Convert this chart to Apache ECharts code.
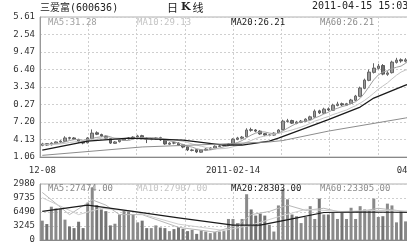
<!DOCTYPE html>
<html><head><meta charset="utf-8">
<script src="https://cdn.jsdelivr.net/npm/echarts@6/dist/echarts.min.js"></script>
<style>
html,body{margin:0;padding:0;background:#fff;overflow:hidden;width:407px;height:251px}
#wrap{position:absolute;left:13px;top:0;width:394px;height:251px;overflow:hidden}
#c{position:absolute;left:-13px;top:0;width:440px;height:251px}
</style>
</head><body><div id="wrap"><div id="c"></div></div>
<script>
const dates = ['2010-12-08','2010-12-09','2010-12-10','2010-12-13','2010-12-14','2010-12-15','2010-12-16','2010-12-17','2010-12-20','2010-12-21','2010-12-22','2010-12-23','2010-12-24','2010-12-27','2010-12-28','2010-12-29','2010-12-30','2010-12-31',
'2011-01-04','2011-01-05','2011-01-06','2011-01-07','2011-01-10','2011-01-11','2011-01-12','2011-01-13','2011-01-14','2011-01-17','2011-01-18','2011-01-19','2011-01-20','2011-01-21','2011-01-24','2011-01-25','2011-01-26','2011-01-27','2011-01-28','2011-01-31',
'2011-02-01','2011-02-09','2011-02-10','2011-02-11','2011-02-14','2011-02-15','2011-02-16','2011-02-17','2011-02-18','2011-02-21','2011-02-22','2011-02-23','2011-02-24','2011-02-25','2011-02-28',
'2011-03-01','2011-03-02','2011-03-03','2011-03-04','2011-03-07','2011-03-08','2011-03-09','2011-03-10','2011-03-11','2011-03-14','2011-03-15','2011-03-16','2011-03-17','2011-03-18','2011-03-21','2011-03-22','2011-03-23','2011-03-24','2011-03-25','2011-03-28','2011-03-29','2011-03-30','2011-03-31',
'2011-04-01','2011-04-06','2011-04-07','2011-04-08','2011-04-11','2011-04-12','2011-04-13','2011-04-14','2011-04-15'];

const opens = [13.10,13.40,13.20,13.45,13.70,13.80,14.45,14.40,14.15,13.75,
13.55,14.30,15.30,15.00,14.70,14.30,13.45,13.75,14.00,14.25,
14.40,14.60,14.80,14.40,14.15,14.20,14.45,14.00,13.30,13.55,
13.50,13.20,12.85,12.20,12.35,11.90,12.25,12.40,12.60,12.90,
13.05,13.10,13.40,14.15,14.35,14.60,15.85,15.80,15.60,15.15,
14.85,14.90,15.30,15.85,17.30,17.45,16.95,17.15,17.30,17.65,
18.05,19.15,18.75,19.50,19.25,20.10,20.40,20.15,20.45,21.00,
21.70,23.10,24.50,25.90,26.60,27.10,25.55,25.85,27.65,28.10,
27.85,28.05,28.30,27.80,28.45];
const closes = [13.35,13.15,13.50,13.70,13.85,14.40,14.35,14.20,13.70,13.50,
14.40,15.25,15.05,14.75,14.35,13.50,13.70,14.05,14.20,14.40,
14.55,14.75,14.40,14.20,14.25,14.40,14.05,13.35,13.50,13.50,
13.15,12.80,12.30,12.30,11.95,12.30,12.45,12.65,12.95,13.00,
13.15,13.35,14.20,14.40,14.55,15.80,15.75,15.60,15.10,14.90,
14.95,15.25,15.80,17.35,17.40,17.00,17.20,17.35,17.70,18.10,
19.10,18.80,19.45,19.30,20.15,20.35,20.20,20.40,21.05,21.75,
23.15,24.55,25.95,26.65,27.00,25.60,25.80,27.70,28.05,27.90,
28.10,28.25,27.85,28.40,28.20];
const highs = [13.55,13.50,13.65,13.80,14.00,14.70,14.60,14.55,14.25,13.85,
14.55,15.90,15.55,15.15,14.85,14.40,13.85,14.20,14.35,14.55,
14.70,14.95,14.95,14.55,14.40,14.55,14.60,14.10,13.65,13.70,
13.65,13.35,12.95,12.50,12.45,12.45,12.60,12.80,13.10,13.15,
13.25,13.50,14.35,14.60,14.75,16.10,16.20,15.95,15.75,15.25,
15.10,15.40,15.95,17.60,17.75,17.60,17.40,17.55,17.85,18.30,
19.40,19.35,19.70,19.75,20.40,20.75,20.60,20.55,21.25,21.95,
23.40,24.80,26.40,27.50,27.40,27.35,26.10,27.95,28.45,28.35,
28.40,28.55,28.50,28.60,28.70];
const lows = [12.95,13.00,13.10,13.35,13.55,13.70,14.15,14.05,13.55,13.30,
13.45,14.15,14.90,14.55,14.20,13.35,13.35,13.60,13.90,14.15,
14.30,14.50,14.25,13.50,14.00,14.10,13.90,13.20,13.15,13.30,
13.00,12.60,12.10,12.05,11.75,11.80,12.10,12.30,12.50,12.80,
12.90,13.00,13.30,14.00,14.20,14.50,15.50,15.40,14.95,14.70,
14.70,14.80,15.20,15.75,17.10,16.85,16.80,17.00,17.20,17.55,
17.95,18.60,18.60,19.10,19.15,19.95,20.00,20.00,20.30,20.85,
21.55,22.95,24.35,25.70,26.40,25.40,25.30,25.70,27.45,27.60,
27.65,27.90,27.65,27.70,28.00];
const volumes = [18300,15100,31500,29850,29550,19260,12800,11250,17300,11250,
35300,49800,33000,28900,27300,13800,15400,24100,27900,27000,
24100,16700,18300,11250,11250,13800,11850,11250,8400,10300,
12200,10600,8400,9600,5800,9000,8000,6450,7700,8000,
8400,19900,19900,16000,19900,43300,28900,23100,25000,23100,
14400,8000,32700,48100,38500,24100,22500,16000,21800,32000,
19900,39200,24100,24100,25700,19900,26300,19900,30500,19900,
32000,28900,28200,39200,21800,22500,34400,32700,16700,27300,
17600,25000,21000,23000,19000];

const ma5 = [13.3,13.3,13.3,13.4,13.5,13.7,13.95,14.1,14.1,14.0,
14.1,14.3,14.5,14.6,14.8,14.6,14.3,14.1,13.95,13.95,
14.2,14.4,14.45,14.45,14.45,14.4,14.3,14.05,13.9,13.75,
13.5,13.25,12.95,12.8,12.5,12.35,12.25,12.3,12.45,12.65,
12.85,13.0,13.35,13.6,13.95,14.45,14.9,15.25,15.45,15.45,
15.25,15.15,15.2,15.65,16.1,16.55,16.95,17.25,17.35,17.45,
17.9,18.2,18.6,18.9,19.35,19.6,19.9,20.1,20.45,20.75,
21.35,22.3,23.45,24.6,25.45,25.95,26.2,26.55,26.8,27.0,
27.5,28.0,28.05,28.1,28.15];
const ma10 = [13.2,13.2,13.25,13.3,13.35,13.45,13.6,13.7,13.8,13.8,
13.9,14.0,14.2,14.35,14.4,14.4,14.4,14.35,14.3,14.35,
14.35,14.35,14.3,14.2,14.2,14.3,14.35,14.25,14.15,14.1,
13.95,13.8,13.6,13.35,13.15,12.95,12.75,12.6,12.5,12.5,
12.55,12.65,12.85,13.05,13.3,13.65,13.95,14.3,14.55,14.75,
14.85,15.05,15.2,15.4,15.6,15.8,16.05,16.3,16.6,16.95,
17.35,17.6,17.9,18.15,18.5,18.75,19.05,19.3,19.7,20.05,
20.5,21.0,21.6,22.25,22.95,23.5,24.05,24.75,25.4,25.95,
26.3,26.5,26.75,27.0,27.2];
// [category index, value]
const ma20Points = [[0,12.28],[10,13.86],[19,14.38],[31,14.03],[40,13.16],[44,13.16],[50,13.86],[52,14.38],[63,17.6],[70,19.82],[73,21.4],[80,23.68],[84,24.6]];
const ma60Points = [[0,11.35],[22,12.82],[40,13.35],[50,13.7],[53,13.95],[63,15.6],[80,17.9],[84,18.5]];
const volMa5Points = [[0,45000],[6,24000],[11,38000],[14,33000],[17,24000],[22,24000],[30,12000],[38,7500],[43,14000],[46,24000],[50,27000],[54,33000],[58,28000],[62,30000],[66,26000],[70,27000],[74,30000],[78,28000],[84,24000]];
const volMa10Points = [[0,40000],[8,24000],[13,30000],[20,27000],[30,15000],[40,9000],[46,14000],[52,22000],[58,29000],[66,27000],[74,28000],[84,27000]];
const volMa20Points = [[0,27000],[10,33000],[20,27000],[30,21000],[42,14000],[48,14000],[55,20000],[62,26000],[70,26500],[84,26000]];

const priceTicks = [11.06,14.13,17.20,20.27,23.34,26.40,29.47,32.54,35.61];
const volTicks = [0,13245,26490,39735,52980];
const xLabelDates = ['2010-12-08','2011-02-14','2011-04-15'];
const xLabelText = ['12-08','2011-02-14','04-15'];
const priceMaLabels = ['MA5:31.28','MA10:29.13','MA20:26.21','MA60:26.21'];
const volMaLabels = ['MA5:27474.00','MA10:27907.00','MA20:28303.00','MA60:23305.00'];
const titleText = '三爱富(600636)';
const dateTime = '2011-04-15 15:03';

const MONO = '"DejaVu Sans Mono","Liberation Mono",monospace';
const maColors = ['#a0a0a0','#c4c4c4','#1a1a1a','#8c8c8c'];
const maLabelX = [48, 137, 231, 320];

const chart = echarts.init(document.getElementById('c'), null, {renderer:'canvas'});
const dash = {show:true, lineStyle:{color:'#cfcfcf', type:[2,2], width:1}};
const hiddenAxis = {axisLine:{show:false}, axisTick:{show:false}, axisLabel:{show:false}};

function ptsToData(pts){ return pts.map(p => [dates[p[0]], p[1]]); }

const graphics = [
  {type:'text', left:40, top:3, style:{text:titleText, font:'10px '+MONO+',"Noto Sans CJK SC"', fill:'#222'}},
  {type:'text', left:167, top:2, style:{text:'{a|日}{b|K}{a|线}', rich:{a:{font:'11px "Noto Sans CJK SC"', fill:'#222'}, b:{font:'bold 11px "DejaVu Serif"', fill:'#222', padding:[0,2,0,3]}}}},
  {type:'text', left:312, top:1, style:{text:dateTime, font:'10px '+MONO, fill:'#222'}}
];
priceMaLabels.forEach((t,i)=>graphics.push({type:'text', left:maLabelX[i], top:18, z:10, style:{text:t, font:'9px '+MONO, fill:maColors[i]}}));
volMaLabels.forEach((t,i)=>graphics.push({type:'text', left:maLabelX[i], top:184.5, z:10, style:{text:t, font:'9px '+MONO, fill:i===0?'#888':maColors[i]}}));

const option = {
  animation:false,
  backgroundColor:'#fff',
  graphic: graphics,
  grid:[
    {left:40, top:17, width:386, height:140, show:true, borderColor:'#b0b0b0', borderWidth:1},
    {left:40, top:184, width:386, height:56, show:true, borderColor:'#b0b0b0', borderWidth:1}
  ],
  xAxis:[
    {type:'category', gridIndex:0, data:dates, boundaryGap:true,
     axisLine:{lineStyle:{color:'#888'}}, axisTick:{show:false}, splitLine:{show:false},
     axisLabel:{interval:(i,v)=>xLabelDates.indexOf(v)>=0, formatter:v=>xLabelText[xLabelDates.indexOf(v)],
       fontFamily:MONO, fontSize:9, color:'#333', margin:9, alignMaxLabel:'right'}},
    {type:'category', gridIndex:1, data:dates, boundaryGap:true,
     axisLine:{lineStyle:{color:'#888'}}, axisTick:{show:false}, axisLabel:{show:false}, splitLine:{show:false}},
    Object.assign({type:'value', gridIndex:0, min:0, max:8, interval:1, position:'top', splitLine:dash}, hiddenAxis),
    Object.assign({type:'value', gridIndex:1, min:0, max:8, interval:1, position:'top', splitLine:dash}, hiddenAxis)
  ],
  yAxis:[
    {type:'value', gridIndex:0, min:priceTicks[0], max:priceTicks[priceTicks.length-1], position:'left',
     axisLine:{show:true, lineStyle:{color:'#999'}}, axisTick:{show:false}, splitLine:{show:false},
     axisLabel:{customValues:priceTicks, formatter:v=>v.toFixed(2), fontFamily:MONO, fontSize:9, color:'#333', margin:5}},
    {type:'value', gridIndex:1, min:volTicks[0], max:volTicks[volTicks.length-1], interval:volTicks[1], position:'left',
     axisLine:{show:true, lineStyle:{color:'#999'}}, axisTick:{show:false}, splitLine:dash,
     axisLabel:{formatter:v=>String(Math.round(v)), fontFamily:MONO, fontSize:9, color:'#333', margin:5}},
    Object.assign({type:'value', gridIndex:0, min:0, max:8, interval:1, position:'right', splitLine:dash}, hiddenAxis)
  ],
  series:[
    {type:'candlestick', xAxisIndex:0, yAxisIndex:0, barWidth:3,
     data:dates.map((d,i)=>[opens[i],closes[i],lows[i],highs[i]]),
     itemStyle:{color:'#9a9a9a', color0:'#6e6e6e', borderColor:'#666', borderColor0:'#5a5a5a', borderWidth:1}},
    {type:'line', xAxisIndex:0, yAxisIndex:0, data:ma5, symbol:'none', lineStyle:{color:maColors[0], width:1}},
    {type:'line', xAxisIndex:0, yAxisIndex:0, data:ma10, symbol:'none', lineStyle:{color:maColors[1], width:1}},
    {type:'line', xAxisIndex:0, yAxisIndex:0, data:ptsToData(ma20Points), symbol:'none', lineStyle:{color:maColors[2], width:1.3}},
    {type:'line', xAxisIndex:0, yAxisIndex:0, data:ptsToData(ma60Points), symbol:'none', lineStyle:{color:maColors[3], width:1}},
    {type:'bar', xAxisIndex:1, yAxisIndex:1, barWidth:3,
     data:volumes.map((v,i)=>({value:v, itemStyle:{color: closes[i]>=opens[i] ? '#8a8a8a' : '#747474'}}))},
    {type:'line', xAxisIndex:1, yAxisIndex:1, data:ptsToData(volMa5Points), symbol:'none', lineStyle:{color:'#b8b8b8', width:1}},
    {type:'line', xAxisIndex:1, yAxisIndex:1, data:ptsToData(volMa10Points), symbol:'none', lineStyle:{color:'#cfcfcf', width:1}},
    {type:'line', xAxisIndex:1, yAxisIndex:1, data:ptsToData(volMa20Points), symbol:'none', lineStyle:{color:'#1a1a1a', width:1.2}}
  ]
};
chart.setOption(option);
</script>
</body></html>
